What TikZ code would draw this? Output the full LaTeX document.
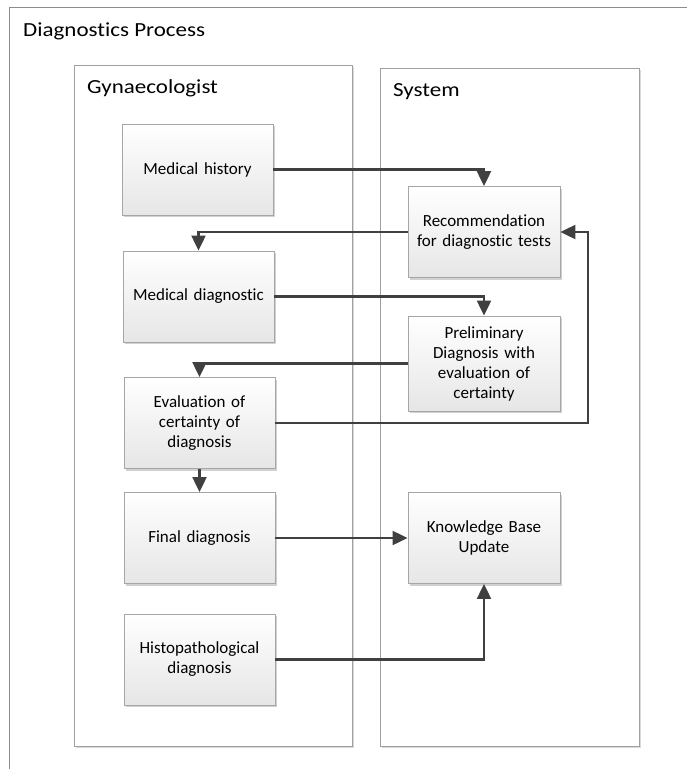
\documentclass[tikz,border=0pt]{standalone}
\usepackage{fontspec}
\setmainfont{Carlito}[Ligatures=NoCommon]
\newfontfamily\wideCarlito{Carlito}[Ligatures=NoCommon,FakeStretch=1.15]
\usetikzlibrary{arrows.meta,shadows}
\definecolor{arr}{HTML}{404040}
\definecolor{bord}{HTML}{A6A6A6}
\definecolor{laneb}{HTML}{A0A0A0}
\definecolor{framec}{HTML}{8C8C8C}
\definecolor{boxbot}{HTML}{E6E6E6}
\begin{document}
\begin{tikzpicture}[x=1pt,y=-1pt,
  box/.style={draw=bord, line width=0.9pt, top color=white, bottom color=boxbot,
    minimum width=151pt, minimum height=91pt, inner sep=2pt, align=center,
    text width=147pt, font=\fontsize{17}{20}\selectfont,
    drop shadow={shadow xshift=2pt, shadow yshift=-2pt, fill=black, opacity=0.18}},
  lane/.style={draw=laneb, line width=0.9pt, fill=white, anchor=north west, inner sep=0pt,
    drop shadow={shadow xshift=2pt, shadow yshift=-2pt, fill=black, opacity=0.15}},
  ttl/.style={anchor=base west, inner sep=0pt, font=\wideCarlito\fontsize{20}{24}\selectfont},
  flow/.style={draw=arr, line width=2.2pt, -{Triangle[length=15pt,width=14pt]}}]
\useasboundingbox (0,0) rectangle (686,769);
\draw[framec, line width=0.9pt] (9,775) -- (9,7) -- (690,7);
\node[ttl] (title) at (23,36.5) {Diagnostics Process};
\node[lane, minimum width=277.5pt, minimum height=681pt] (gyn) at (74,64.5) {};
\node[lane, minimum width=258.5pt, minimum height=678pt] (sys) at (380,67.5) {};
\node[ttl] (gyntitle) at (87,93.5) {Gynaecologist};
\node[ttl] (systitle) at (393,96) {System};
\node[box] (mh) at (197.5,169.5) {Medical history};
\node[box] (md) at (198.5,296.5) {Medical diagnostic};
\node[box] (ev) at (199.5,423) {Evaluation of\\certainty of\\diagnosis};
\node[box] (fd) at (199.5,538) {Final diagnosis};
\node[box] (hd) at (199.5,659.5) {Histopathological\\diagnosis};
\node[box, minimum width=152pt] (rec) at (484,232) {Recommendation\\for diagnostic tests};
\node[box, minimum width=152pt, minimum height=95pt] (pre) at (484,363.5) {Preliminary\\Diagnosis with\\evaluation of\\certainty};
\node[box, minimum width=152pt] (kb) at (484,538) {Knowledge Base\\Update};
\coordinate (loop) at (588,0);
\draw[flow] (mh.east) -| (rec.north);
\draw[flow] (rec.west) -| (md.north);
\draw[flow] (md.east) -| (pre.north);
\draw[flow] (pre.west) -| (ev.north);
\draw[flow] (ev.east) -- (ev.east -| loop) |- (rec.east);
\draw[flow] (ev.south) -- (fd.north);
\draw[flow] (fd.east) -- (kb.west);
\draw[flow] (hd.east) -| (kb.south);
\end{tikzpicture}
\end{document}
